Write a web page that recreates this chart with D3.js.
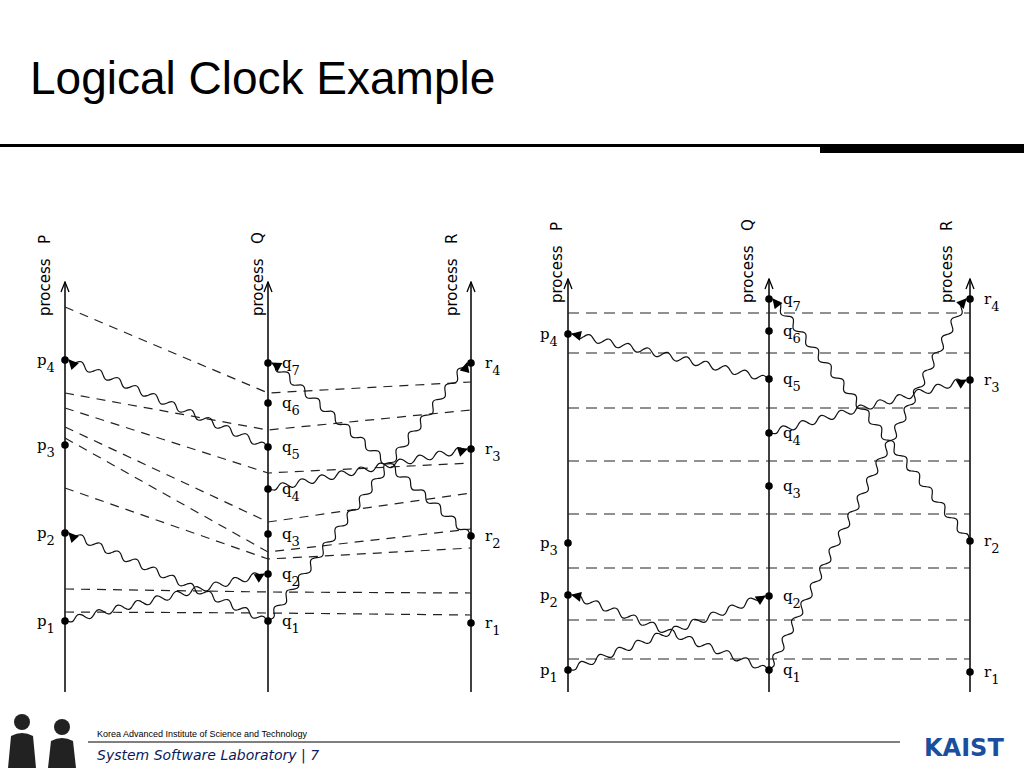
<!DOCTYPE html>
<html><head><meta charset="utf-8">
<script src="https://cdn.jsdelivr.net/npm/d3@7"></script>
<style>body{margin:0;background:#fff}svg{display:block}</style></head>
<body><svg id="c" width="1024" height="768"></svg>
<script>
const processes = ["P","Q","R"];
const leftEvents = {
  P:[621,533,445,360],
  Q:[621,574,534,489,447,403,363],
  R:[623,536,449,363]
};
const rightEvents = {
  P:[670,595,543,334],
  Q:[670,596,486,433,379,331,299],
  R:[672,541,380,299]
};
// messages: [fromProc, fromIdx, toProc, toIdx]
const messages = [["P",0,"Q",1],["Q",0,"P",1],["Q",0,"R",3],["Q",3,"R",2],["Q",4,"P",3],["R",1,"Q",6]];
const leftCutP = [307,393,408,427,438,488,589,612];
const leftCutQ = [393,430,473,522,552,559,592,613];
const leftCutR = [382,410,463,493,529,548,593,615];
const rightCuts = [313,353,408,461,514,568,620,659];

const svg = d3.select("#c");
svg.append("text").attr("x",30).attr("y",94).attr("font-family","Liberation Sans, Arial").attr("font-size",46).text("Logical Clock Example");
svg.append("rect").attr("x",0).attr("y",144).attr("width",820).attr("height",3);
svg.append("rect").attr("x",820).attr("y",144).attr("width",204).attr("height",9);

const defs = svg.append("defs");
defs.append("marker").attr("id","ah").attr("viewBox","0 0 10 10").attr("refX",9).attr("refY",5)
  .attr("markerWidth",11).attr("markerHeight",10).attr("markerUnits","userSpaceOnUse").attr("orient","auto")
  .append("path").attr("d","M0,0L10,5L0,10Z").attr("fill","#000");
defs.append("marker").attr("id","top").attr("viewBox","0 0 10 10").attr("refX",10).attr("refY",5)
  .attr("markerWidth",12).attr("markerHeight",10).attr("markerUnits","userSpaceOnUse").attr("orient","auto")
  .append("path").attr("d","M0,1L10,5L0,9").attr("fill","none").attr("stroke","#000").attr("stroke-width",1.3);

function wavy(x1,y1,x2,y2){
  const dx=x2-x1, dy=y2-y1, L=Math.hypot(dx,dy), ux=dx/L, uy=dy/L, nx=-uy, ny=ux;
  const pts=[]; const n=Math.ceil(L/2);
  for(let i=0;i<=n;i++){const t=i/n*L; const a=(i===0||i===n)?0:3.5*Math.sin(t/20*2*Math.PI)*Math.min(1,t/8,(L-t)/8);
    pts.push([x1+ux*t+nx*a, y1+uy*t+ny*a]);}
  return d3.line().curve(d3.curveBasis)(pts);
}

function diagram(xRange, topY, labelBottom, events, cuts, labelX){
  const x = d3.scalePoint().domain(processes).range(xRange);
  const y = d3.scaleLinear().domain([0,768]).range([0,768]);
  const g = svg.append("g");
  processes.forEach((p,i)=>{
    g.append("line").attr("x1",x(p)).attr("x2",x(p)).attr("y1",692).attr("y2",y(topY))
      .attr("stroke","#000").attr("stroke-width",1.5).attr("marker-end","url(#top)");
    g.append("text").attr("transform",`translate(${x(p)+labelX[i]},${labelBottom}) rotate(-90)`)
      .attr("font-family","DejaVu Sans, Arial").attr("font-size",15).attr("dy","0.35em")
      .attr("xml:space","preserve").text("process   "+p);
  });
  cuts(g,x,y);
  messages.forEach(([fp,fi,tp,ti])=>{
    const x1=x(fp),y1=y(events[fp][fi]),x2=x(tp),y2=y(events[tp][ti]);
    const dir=Math.sign(x2-x1);
    g.append("path").attr("d",wavy(x1,y1,x2-dir*4,y2)).attr("fill","none").attr("stroke","#111")
      .attr("stroke-width",1.2).attr("marker-end","url(#ah)");
  });
  processes.forEach(p=>{
    events[p].forEach((v,i)=>{
      g.append("circle").attr("cx",x(p)).attr("cy",y(v)).attr("r",3.8).attr("fill","#000");
      const lx = p==="P"? x(p)-28 : x(p)+14;
      const t=g.append("text").attr("x",lx).attr("y",y(v)+5).attr("font-family","DejaVu Serif, serif").attr("font-size",15);
      t.append("tspan").text(p.toLowerCase());
      t.append("tspan").attr("dy",7).attr("font-size",13).text(i+1);
    });
  });
}

diagram([65,471],282,316,leftEvents,(g,x,y)=>{
  leftCutP.forEach((v,i)=>{
    g.append("path").attr("d",d3.line()([[x("P"),y(v)],[x("Q"),y(leftCutQ[i])],[x("R"),y(leftCutR[i])]]))
      .attr("fill","none").attr("stroke","#222").attr("stroke-width",1.2).attr("stroke-dasharray","9,7");
  });
},[-20,-10,-19]);

diagram([568,970],279,303,rightEvents,(g,x,y)=>{
  rightCuts.forEach(v=>{
    g.append("line").attr("x1",x("P")).attr("x2",x("R")).attr("y1",y(v)).attr("y2",y(v))
      .attr("stroke","#222").attr("stroke-width",1.2).attr("stroke-dasharray","11,7");
  });
},[-11,-21,-23]);

svg.append("text").attr("x",97).attr("y",737).attr("font-family","Liberation Sans, Arial").attr("font-size",9).text("Korea Advanced Institute of Science and Technology");
svg.append("line").attr("x1",88).attr("x2",900).attr("y1",742).attr("y2",742).attr("stroke","#000").attr("stroke-width",1);
svg.append("text").attr("x",97).attr("y",760).attr("font-family","DejaVu Sans, Arial").attr("font-style","italic").attr("font-size",14).attr("fill","#0a1a5a").text("System Software Laboratory | 7");
svg.append("text").attr("x",924).attr("y",756).attr("font-family","DejaVu Sans, Arial").attr("font-weight","bold").attr("font-size",24).attr("fill","#1a4fa0").text("KAIST");
const fig = svg.append("g").attr("fill","#222");
[[22,722],[62,727]].forEach(([cx,cy])=>{
  fig.append("circle").attr("cx",cx).attr("cy",cy).attr("r",8);
  fig.append("path").attr("d",`M${cx-14},768 L${cx-11},${cy+14} Q${cx},${cy+8} ${cx+11},${cy+14} L${cx+14},768Z`);
});
</script></body></html>
